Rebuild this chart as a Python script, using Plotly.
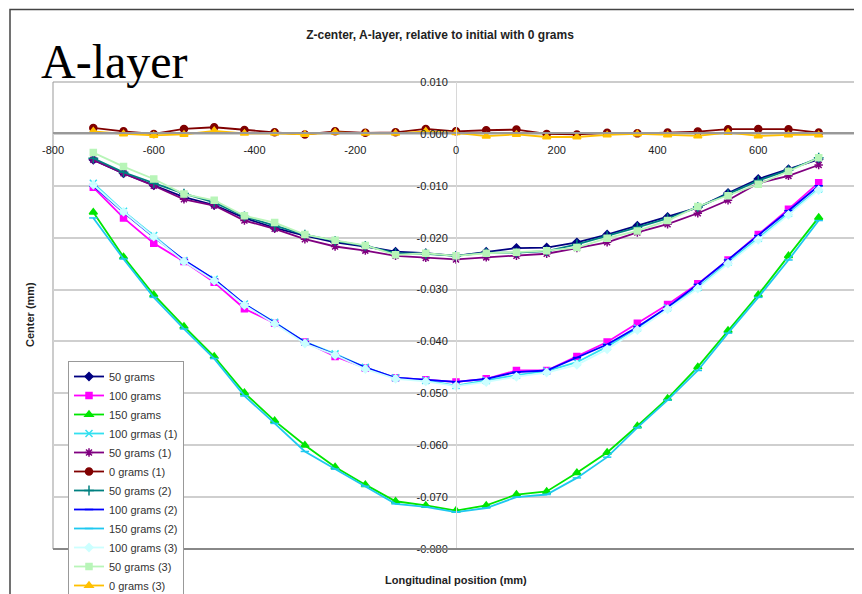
import plotly.graph_objects as go

# Longitudinal positions (mm)
positions = [-720, -660, -600, -540, -480, -420, -360, -300, -240, -180, -120, -60, 0,
             60, 120, 180, 240, 300, 360, 420, 480, 540, 600, 660, 720]

# Values in micrometres (1e-3 mm)
g50 = [-5.0, -7.6, -9.9, -12.2, -13.7, -16.2, -18.1, -19.6, -20.9, -21.7, -22.7, -23.0, -23.5,
       -22.7, -22.0, -21.9, -20.9, -19.4, -17.7, -16.0, -14.2, -11.4, -8.7, -6.8, -4.9]
g100 = [-10.3, -16.2, -21.1, -24.6, -28.6, -33.7, -36.5, -40.1, -42.9, -45.1, -47.0, -47.4, -47.8,
        -47.2, -45.6, -45.6, -42.9, -40.1, -36.5, -32.9, -28.9, -24.3, -19.4, -14.5, -9.4]
g150 = [-15.1, -23.7, -31.0, -37.1, -42.9, -49.9, -55.3, -60.0, -64.2, -67.6, -70.8, -71.6, -72.6,
        -71.6, -69.5, -68.9, -65.3, -61.4, -56.3, -51.0, -44.9, -37.9, -31.0, -23.5, -16.1]
g100_1 = [-9.5, -14.9, -19.6, -24.4, -28.0, -32.8, -36.3, -40.1, -42.4, -45.0, -47.0, -47.5, -48.5,
          -47.5, -46.5, -45.7, -44.0, -41.0, -37.4, -33.5, -29.6, -24.7, -20.1, -15.3, -10.6]
g50_1 = [-5.0, -7.6, -10.0, -12.6, -13.8, -16.7, -18.3, -20.3, -21.7, -22.5, -23.5, -23.9, -24.2,
         -23.8, -23.5, -23.1, -22.0, -20.9, -19.0, -17.4, -15.3, -12.8, -9.5, -8.1, -6.0]
g0_1 = [1.15, 0.5, 0.0, 0.96, 1.28, 0.77, 0.3, -0.1, 0.5, 0.2, 0.3, 0.96, 0.5,
        0.7, 0.83, 0.0, -0.1, 0.2, 0.1, 0.26, 0.45, 0.9, 0.96, 0.9, 0.26]
g50_2 = [-4.7, -7.4, -9.5, -11.5, -13.2, -15.9, -17.7, -19.4, -20.6, -21.6, -23.0, -23.1, -23.5,
         -22.9, -22.9, -22.6, -21.3, -19.7, -18.0, -16.3, -14.1, -11.6, -9.0, -7.0, -4.6]
g100_2 = [-10.0, -15.1, -19.9, -24.3, -28.0, -32.8, -36.4, -40.1, -42.6, -45.0, -47.0, -47.4, -47.8,
          -47.2, -45.9, -45.6, -43.1, -40.6, -37.2, -33.4, -29.0, -24.3, -19.6, -14.8, -10.0]
g150_2 = [-16.2, -24.1, -31.5, -37.6, -43.3, -50.5, -55.8, -61.2, -64.6, -67.9, -71.3, -71.9, -72.9,
          -72.1, -70.0, -69.5, -66.3, -62.3, -56.6, -51.3, -45.6, -38.4, -31.5, -24.3, -16.7]
g100_3 = [-9.8, -15.0, -19.8, -24.6, -28.3, -33.0, -36.6, -40.4, -42.6, -45.3, -47.2, -47.7, -48.6,
          -47.8, -46.8, -46.0, -44.5, -41.5, -37.8, -33.8, -29.8, -25.0, -20.4, -15.6, -10.8]
g50_3 = [-3.6, -6.3, -8.7, -11.6, -12.8, -15.8, -17.1, -19.4, -20.5, -21.5, -23.3, -23.0, -23.5,
         -23.0, -22.8, -22.5, -21.9, -20.1, -18.7, -16.7, -14.0, -11.9, -9.7, -7.2, -4.6]
g0_3 = [0.5, 0.0, -0.3, -0.1, 0.6, 0.1, 0.1, -0.1, 0.3, 0.1, 0.1, 0.5, 0.2,
        -0.45, -0.1, -0.6, -0.6, -0.2, 0.0, -0.2, -0.4, 0.26, -0.4, -0.2, -0.2]

series_names = ["50 grams", "100 grams", "150 grams", "100 grmas (1)", "50 grams (1)",
                "0 grams (1)", "50 grams (2)", "100 grams (2)", "150 grams (2)",
                "100 grams (3)", "50 grams (3)", "0 grams (3)"]
series_values = [g50, g100, g150, g100_1, g50_1, g0_1, g50_2, g100_2, g150_2, g100_3, g50_3, g0_3]

x_ticks = [-800, -600, -400, -200, 0, 200, 400, 600, 800]
x_tick_labels = ["-800", "-600", "-400", "-200", "0", "200", "400", "600", "800"]
y_ticks = [0.010, 0.000, -0.010, -0.020, -0.030, -0.040, -0.050, -0.060, -0.070, -0.080]
y_tick_labels = ["0.010", "0.000", "-0.010", "-0.020", "-0.030", "-0.040", "-0.050",
                 "-0.060", "-0.070", "-0.080"]

styles = [
    dict(color="#000080", symbol="diamond", size=6),
    dict(color="#FF00FF", symbol="square", size=6),
    dict(color="#00E600", symbol="triangle-up", size=7),
    dict(color="#33E0F0", symbol="x-thin-open", size=7),
    dict(color="#800080", symbol="asterisk-open", size=7),
    dict(color="#800000", symbol="circle", size=7),
    dict(color="#008080", symbol="cross-thin-open", size=7),
    dict(color="#0000FF", symbol="line-ew-open", size=6),
    dict(color="#1EC8F0", symbol="line-ew-open", size=6),
    dict(color="#CCFFFF", symbol="diamond", size=6),
    dict(color="#B8F5B8", symbol="square", size=6),
    dict(color="#FFC000", symbol="triangle-up", size=7),
]

fig = go.Figure()
for name, vals, st in zip(series_names, series_values, styles):
    fig.add_trace(go.Scatter(
        x=positions, y=[v / 1000.0 for v in vals], name=name,
        mode="lines+markers",
        line=dict(color=st["color"], width=1.8),
        marker=dict(symbol=st["symbol"], size=st["size"], color=st["color"],
                    line=dict(color=st["color"], width=1.5)),
    ))

# page has an 8px body margin: figure pixel = page pixel - 8
OFF = 8
W, H = 862 - OFF, 594 - OFF
L, R, T, B = 53, 859, 82, 549          # plot area in page pixels
pw, ph = R - L, B - T

def px(xp):
    return (xp - L) / pw

def py(yp):
    return (B - yp) / ph

fig.update_layout(
    width=W, height=H,
    margin=dict(l=L - OFF, r=W - (R - OFF), t=T - OFF, b=H - (B - OFF), pad=0,
                autoexpand=False),
    paper_bgcolor="white", plot_bgcolor="white",
    font=dict(family="Liberation Sans, Arial", size=11, color="#222"),
    title=dict(text="<b>Z-center, A-layer, relative to initial with 0 grams</b>",
               x=(440 - OFF) / W, xref="container", xanchor="center",
               y=1 - (35 - OFF) / H, yref="container", yanchor="middle",
               font=dict(size=12, color="#222")),
    xaxis=dict(range=[-800, 800], tickvals=x_ticks, ticktext=x_tick_labels,
               showgrid=False, zeroline=False, showline=True, linecolor="#999",
               linewidth=2, anchor="free", position=py(133), side="bottom",
               ticks="", ticklabelstandoff=7, tickfont=dict(size=11, color="#222")),
    yaxis=dict(range=[-0.080, 0.010], tickvals=y_ticks, ticktext=y_tick_labels,
               showgrid=True, gridcolor="#cfcfcf", gridwidth=1.5, zeroline=False,
               showline=True, linecolor="#d8d8d8", linewidth=1,
               anchor="free", position=px(456), side="left",
               ticks="", ticklabelstandoff=6, tickfont=dict(size=11, color="#222")),
    legend=dict(x=px(68), y=py(361), xanchor="left", yanchor="top",
                bgcolor="white", bordercolor="#999", borderwidth=1,
                font=dict(size=11, color="#333"), itemwidth=30),
    showlegend=True,
)

# plot area frame and outer chart frame
fig.add_shape(type="rect", xref="paper", yref="paper", x0=0, x1=1, y0=0, y1=1,
              line=dict(color="#999", width=1), layer="below")
fig.add_shape(type="line", xref="paper", yref="paper", x0=0, x1=1, y0=0, y1=0,
              line=dict(color="#888", width=2))
fig.add_shape(type="rect", xref="paper", yref="paper",
              x0=px(10), x1=px(880), y0=py(610), y1=py(9.5),
              line=dict(color="#444", width=1.5), layer="below")

fig.add_annotation(text="A-layer", xref="paper", yref="paper", x=px(39), y=py(61),
                   xanchor="left", yanchor="middle", showarrow=False,
                   font=dict(family="Liberation Serif, Times New Roman", size=48, color="black"))
fig.add_annotation(text="<b>Center (mm)</b>", xref="paper", yref="paper",
                   x=px(30), y=py(315), textangle=-90, showarrow=False,
                   xanchor="center", yanchor="middle", font=dict(size=11, color="#222"))
fig.add_annotation(text="<b>Longitudinal position (mm)</b>", xref="paper", yref="paper",
                   x=px(456), y=py(580), showarrow=False,
                   xanchor="center", yanchor="middle", font=dict(size=11, color="#222"))

fig.write_html("out.html")
